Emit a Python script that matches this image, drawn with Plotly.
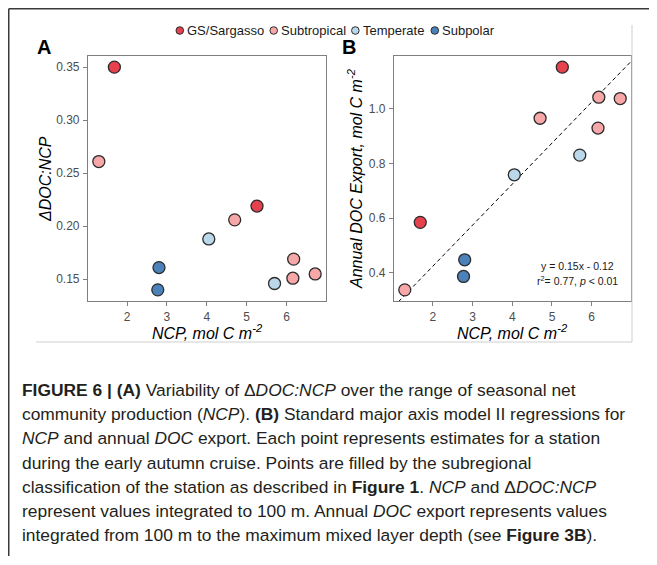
import plotly.graph_objects as go

# ---------------- data ----------------
categories = ["GS/Sargasso", "Subtropical", "Temperate", "Subpolar"]
category_colors = ["#E8414E", "#F7A7A7", "#BAD8EA", "#4C82BA"]

station_region = ["GS/Sargasso", "Subtropical", "GS/Sargasso", "Subtropical", "Temperate",
                  "Subpolar", "Subpolar", "Subtropical", "Subtropical", "Subtropical", "Temperate"]
ncp = [1.68, 1.29, 5.26, 4.70, 4.05, 2.80, 2.77, 6.18, 6.16, 6.72, 5.70]
ddoc_ncp = [0.350, 0.261, 0.219, 0.206, 0.188, 0.161, 0.140, 0.169, 0.151, 0.155, 0.146]
doc_export = [0.585, 0.338, 1.153, 0.966, 0.759, 0.448, 0.387, 1.043, 0.930, 1.038, 0.831]

fit_slope = 0.15
fit_intercept = 0.125
fit_label = ["y = 0.15x - 0.12", "r<sup>2</sup>= 0.77, <i>p</i> < 0.01"]

x_ticks = [2, 3, 4, 5, 6]
a_y_ticks = [0.15, 0.20, 0.25, 0.30, 0.35]
b_y_ticks = [0.4, 0.6, 0.8, 1.0]

caption_lines = [
    "<b>FIGURE 6 | (A)</b> Variability of Δ<i>DOC:NCP</i> over the range of seasonal net",
    "community production (<i>NCP</i>). <b>(B)</b> Standard major axis model II regressions for",
    "<i>NCP</i> and annual <i>DOC</i> export. Each point represents estimates for a station",
    "during the early autumn cruise. Points are filled by the subregional",
    "classification of the station as described in <b>Figure 1</b>. <i>NCP</i> and Δ<i>DOC:NCP</i>",
    "represent values integrated to 100 m. Annual <i>DOC</i> export represents values",
    "integrated from 100 m to the maximum mixed layer depth (see <b>Figure 3B</b>).",
]

# ---------------- geometry ----------------
# the page body has an 8px default margin, so the figure is offset by 8px
OFF = 8
W, H = 657 - OFF, 565 - OFF
def px(x): return (x - OFF) / W
def py(y): return 1 - (y - OFF) / H

def expand(vals, f=0.05):
    lo, hi = min(vals), max(vals)
    d = (hi - lo) * f
    return [lo - d, hi + d]

FONT = "Liberation Sans, Arial, sans-serif"
AX_GREY = "#7f7f7f"
TICK_FONT = dict(family=FONT, size=12, color="#4d4d4d")

fig = go.Figure()

x_range = expand(ncp)
fit_x = [x_range[0] - 0.5, x_range[1] + 0.5]
fig.add_trace(go.Scatter(
    x=fit_x, y=[fit_slope * v + fit_intercept for v in fit_x],
    mode="lines", xaxis="x2", yaxis="y2", showlegend=False,
    line=dict(color="black", width=1, dash="4px,3px"),
))

color_of = dict(zip(categories, category_colors))
for cat in categories:
    idx = [i for i, r in enumerate(station_region) if r == cat]
    for (xa, ya, yvals) in (("x", "y", ddoc_ncp), ("x2", "y2", doc_export)):
        fig.add_trace(go.Scatter(
            x=[ncp[i] for i in idx], y=[yvals[i] for i in idx],
            mode="markers", xaxis=xa, yaxis=ya, name=cat, showlegend=False,
            marker=dict(size=12, color=color_of[cat], line=dict(color="#2b2b2b", width=1.3)),
            cliponaxis=False,
        ))

axis_common = dict(
    showgrid=False, zeroline=False, showline=True, mirror=True,
    linecolor=AX_GREY, linewidth=1.2, ticks="outside", ticklen=4,
    tickcolor=AX_GREY, tickwidth=1, tickfont=TICK_FONT,
)

fig.update_layout(
    width=W, height=H, autosize=False,
    margin=dict(l=0, r=0, t=0, b=0),
    paper_bgcolor="white", plot_bgcolor="white",
    showlegend=False,
    xaxis=dict(domain=[px(88), px(326)], range=x_range, tickvals=x_ticks, anchor="y", **axis_common),
    yaxis=dict(domain=[py(301), py(56)], range=expand(ddoc_ncp), tickvals=a_y_ticks,
               tickformat=".2f", anchor="x", ticklabelstandoff=1, **axis_common),
    xaxis2=dict(domain=[px(394), px(631)], range=x_range, tickvals=x_ticks, anchor="y2", **axis_common),
    yaxis2=dict(domain=[py(301), py(56)], range=expand(doc_export), tickvals=b_y_ticks,
                tickformat=".1f", anchor="x2", ticklabelstandoff=1, **axis_common),
)

shapes = []
# outer frame (top and left)
shapes.append(dict(type="line", xref="paper", yref="paper", x0=px(8.75), x1=1.0, y0=py(8.75), y1=py(8.75),
                   line=dict(color="#3a3a3a", width=1.5)))
shapes.append(dict(type="line", xref="paper", yref="paper", x0=px(8.75), x1=px(8.75), y0=py(8.75), y1=py(556),
                   line=dict(color="#3a3a3a", width=1.5)))
# inner figure edge (light grey)
shapes.append(dict(type="line", xref="paper", yref="paper", x0=px(36), x1=px(632), y0=py(342), y1=py(342),
                   line=dict(color="#cfcfcf", width=1)))
shapes.append(dict(type="line", xref="paper", yref="paper", x0=px(632), x1=px(632), y0=py(25), y1=py(342),
                   line=dict(color="#cfcfcf", width=1)))

annotations = []
# legend (manual, laid out left to right from estimated text widths)
LEG_FONT = 13
LEG_R = 3.8
em_width = {"GS/Sargasso": 5.947, "Subtropical": 5.002, "Temperate": 4.835, "Subpolar": 4.002}
cursor = 176.0
for cat, col in zip(categories, category_colors):
    cx = cursor + LEG_R
    shapes.append(dict(type="circle", xref="paper", yref="paper",
                       xsizemode="pixel", ysizemode="pixel",
                       xanchor=px(cx), yanchor=py(30.5), x0=-LEG_R, x1=LEG_R, y0=-LEG_R, y1=LEG_R,
                       fillcolor=col, line=dict(color="#2b2b2b", width=1)))
    tx = cx + LEG_R + 1.5
    annotations.append(dict(xref="paper", yref="paper", x=px(tx), y=py(30.5),
                            xanchor="left", yanchor="middle", showarrow=False, text=cat,
                            font=dict(family=FONT, size=LEG_FONT, color="#1a1a1a")))
    cursor = tx + 1 + em_width[cat] * LEG_FONT + 6.5

# panel labels
annotations.append(dict(xref="paper", yref="paper", x=px(44), y=py(47), text="<b>A</b>",
                        showarrow=False, xanchor="center", yanchor="middle",
                        font=dict(family=FONT, size=20, color="black")))
annotations.append(dict(xref="paper", yref="paper", x=px(349), y=py(47), text="<b>B</b>",
                        showarrow=False, xanchor="center", yanchor="middle",
                        font=dict(family=FONT, size=20, color="black")))

TITLE_FONT = dict(family=FONT, size=16, color="black")
x_title = "<i>NCP, mol C m<sup>-2</sup></i>"
annotations.append(dict(xref="paper", yref="paper", x=px(207), y=py(332), text=x_title,
                        showarrow=False, xanchor="center", yanchor="middle", font=TITLE_FONT))
annotations.append(dict(xref="paper", yref="paper", x=px(512.5), y=py(332), text=x_title,
                        showarrow=False, xanchor="center", yanchor="middle", font=TITLE_FONT))
annotations.append(dict(xref="paper", yref="paper", x=px(45), y=py(179), text="<i>ΔDOC:NCP</i>",
                        showarrow=False, textangle=-90, xanchor="center", yanchor="middle", font=TITLE_FONT))
annotations.append(dict(xref="paper", yref="paper", x=px(355), y=py(179),
                        text="<i>Annual DOC Export, mol C m<sup>-2</sup></i>",
                        showarrow=False, textangle=-90, xanchor="center", yanchor="middle", font=TITLE_FONT))

# regression label
for line_text, ly in zip(fit_label, [266, 280]):
    annotations.append(dict(xref="paper", yref="paper", x=px(577), y=py(ly), text=line_text,
                            showarrow=False, xanchor="center", yanchor="middle",
                            font=dict(family=FONT, size=10.5, color="#1a1a1a")))

# caption
for k, t in enumerate(caption_lines):
    annotations.append(dict(xref="paper", yref="paper", x=px(20), y=py(390 + k * 24.2), text=t,
                            showarrow=False, xanchor="left", yanchor="middle", align="left",
                            font=dict(family=FONT, size=17.4, color="#231f20")))

fig.update_layout(shapes=shapes, annotations=annotations)
fig.write_html("out.html")
